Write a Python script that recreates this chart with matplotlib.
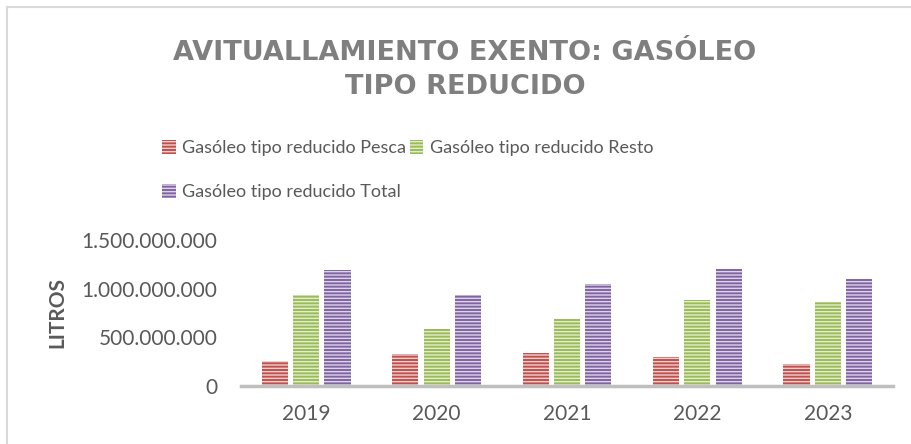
import matplotlib.pyplot as plt
import numpy as np

# datos (litros)
years = ['2019', '2020', '2021', '2022', '2023']
pesca = [260e6, 333e6, 343e6, 302e6, 224e6]
resto = [935e6, 588e6, 687e6, 887e6, 859e6]
total = [1190e6, 935e6, 1048e6, 1203e6, 1100e6]
yticks = [0, 500e6, 1000e6, 1500e6]
ytick_labels = ['0', '500.000.000', '1.000.000.000', '1.500.000.000']

series = [
    ('Gasóleo tipo reducido Pesca', pesca, '#c0504d', '#f0d0cf'),
    ('Gasóleo tipo reducido Resto', resto, '#9bbb59', '#e2edcc'),
    ('Gasóleo tipo reducido Total', total, '#8064a2', '#ddd4e8'),
]

plt.rcParams['font.family'] = ['Lato', 'DejaVu Sans']
plt.rcParams['hatch.linewidth'] = 1.0

fig = plt.figure(figsize=(9.11, 4.44), dpi=100)
ax = fig.add_axes([241/911, 58/444, 652/911, 146/444])

x = np.arange(len(years))
w = 0.2
step = 0.24
bars = []
for i, (name, vals, col, light) in enumerate(series):
    b = ax.bar(x + (i - 1) * step, vals, w, color=col, edgecolor=light,
               linewidth=0, hatch='-----', label=name)
    bars.append(b)

ax.set_xlim(-0.5, len(years) - 0.5)
ax.set_ylim(0, 1.5e9)
ax.set_xticks(x)
ax.set_xticklabels(years)
ax.set_yticks(yticks)
ax.set_yticklabels(ytick_labels)
ax.tick_params(axis='both', length=0, labelsize=15, colors='#595959')
ax.tick_params(axis='x', pad=13)
ax.tick_params(axis='y', pad=17)
for s in ['top', 'right', 'left']:
    ax.spines[s].set_visible(False)
ax.spines['bottom'].set_color('#bfbfbf')
ax.spines['bottom'].set_linewidth(2.5)
ax.set_ylabel('LITROS', fontsize=15, fontweight='bold', color='#595959', labelpad=10)

fig.text(465/911, 1 - 70/444, 'AVITUALLAMIENTO EXENTO: GASÓLEO\nTIPO REDUCIDO',
         ha='center', va='center', fontsize=19.5, fontweight='bold',
         color='#7f7f7f', family=['DejaVu Sans'], linespacing=1.4)

# orden para que la primera fila sea Pesca, Resto
order = [0, 2, 1]
fig.legend([bars[k] for k in order], [series[k][0] for k in order],
           loc='upper left', bbox_to_anchor=(146/911, 1 - 124/444), ncol=2,
           frameon=False, fontsize=13, labelcolor='#595959',
           handlelength=0.75, handleheight=0.75, handletextpad=0.35,
           columnspacing=0.2, labelspacing=1.55)

# marco del gráfico
fig.add_artist(plt.Line2D([7/911, 7/911], [0, 1 - 7/444], color='#d9d9d9', lw=1.5))
fig.add_artist(plt.Line2D([7/911, 1], [1 - 7/444, 1 - 7/444], color='#d9d9d9', lw=1.5))

fig.savefig('out.png', dpi=100)
